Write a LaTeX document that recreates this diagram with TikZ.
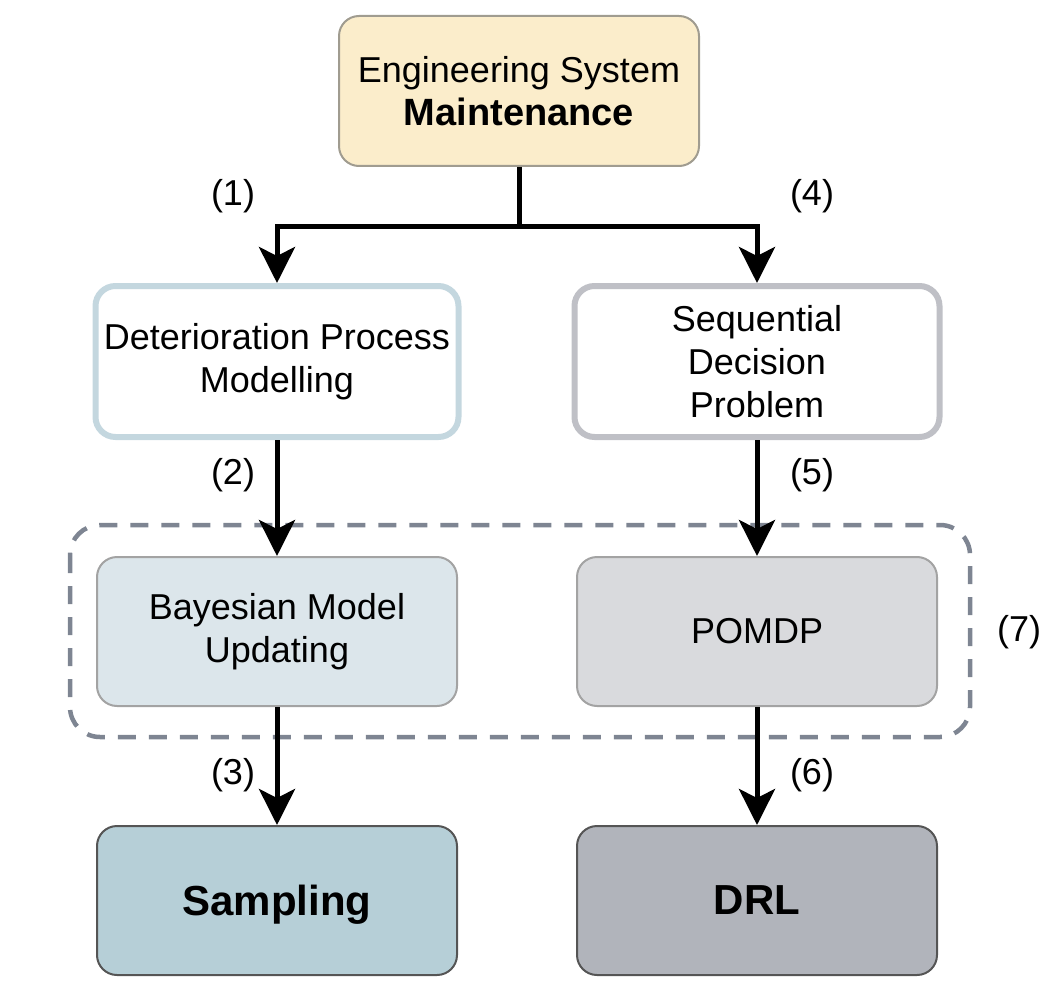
\documentclass[tikz,border=0pt]{standalone}
\usepackage{fontspec}
\setmainfont{Liberation Sans}
\usetikzlibrary{arrows.meta,calc}
\definecolor{topfill}{HTML}{FBEDCB}
\definecolor{topline}{HTML}{A09C90}
\definecolor{detline}{HTML}{C4D7DF}
\definecolor{seqline}{HTML}{BFC0C6}
\definecolor{bayfill}{HTML}{DCE6EB}
\definecolor{pomfill}{HTML}{D9DADD}
\definecolor{midline}{HTML}{A3A3A3}
\definecolor{samfill}{HTML}{B6CFD7}
\definecolor{drlfill}{HTML}{B1B4BB}
\definecolor{botline}{HTML}{555555}
\definecolor{dashline}{HTML}{7E8592}
\begin{document}
\begin{tikzpicture}[x=1pt,y=1pt,
  box/.style={rectangle,rounded corners=20pt,align=center,minimum width=360pt,minimum height=149pt,inner sep=0pt,font=\fontsize{36}{43}\selectfont},
  thinbox/.style={box,line width=2pt},
  thickbox/.style={box,line width=6pt,fill=white},
  boldbox/.style={thinbox,draw=botline,text depth=0pt,font=\fontsize{42}{48}\selectfont\bfseries},
  lbl/.style={font=\fontsize{36}{43}\selectfont,inner sep=0pt},
  arr/.style={line width=5pt,-{Stealth[length=36pt,width=36pt,inset=9pt]}}]
\useasboundingbox (0,0) rectangle (1044,-987);
\node[thinbox,fill=topfill,draw=topline,minimum height=150pt] (top) at (519,-91)
  {Engineering System\\{\fontsize{38}{43}\selectfont\bfseries Maintenance}};
\node[thickbox,draw=detline,minimum width=363pt,minimum height=151pt] (det) at (277,-361.5)
  {Deterioration Process\\Modelling};
\node[thickbox,draw=seqline,minimum width=365pt,minimum height=151pt] (seq) at (757,-361.5)
  {Sequential\\Decision\\Problem};
\node[thinbox,fill=bayfill,draw=midline] (bay) at (277,-631.5) {Bayesian Model\\Updating};
\node[thinbox,fill=pomfill,draw=midline] (pom) at (757,-631.5) {POMDP};
\node[boldbox,fill=samfill] (sam) at (277,-900.5) {Sampling};
\node[boldbox,fill=drlfill] (drl) at (757,-900.5) {DRL};
\draw[dashline,line width=4.5pt,dash pattern=on 18pt off 13pt,rounded corners=30pt]
  (70,-525) rectangle (970,-737);
\coordinate (j) at ($(top.south)+(0,-60)$);
\draw[line width=5pt] (top.south) -- (j);
\draw[arr] (j) -| (det.north);
\draw[arr] (j) -| (seq.north);
\draw[arr] (det.south) -- (bay.north);
\draw[arr] (seq.south) -- (pom.north);
\draw[arr] (bay.south) -- (sam.north);
\draw[arr] (pom.south) -- (drl.north);
\node[lbl] (l1) at (233,-196) {(1)};
\node[lbl] (l4) at (812,-196) {(4)};
\node[lbl] (l2) at (233,-475) {(2)};
\node[lbl] (l5) at (812,-475) {(5)};
\node[lbl] (l3) at (233,-775) {(3)};
\node[lbl] (l6) at (812,-775) {(6)};
\node[lbl] (l7) at (1019,-632) {(7)};
\end{tikzpicture}
\end{document}
